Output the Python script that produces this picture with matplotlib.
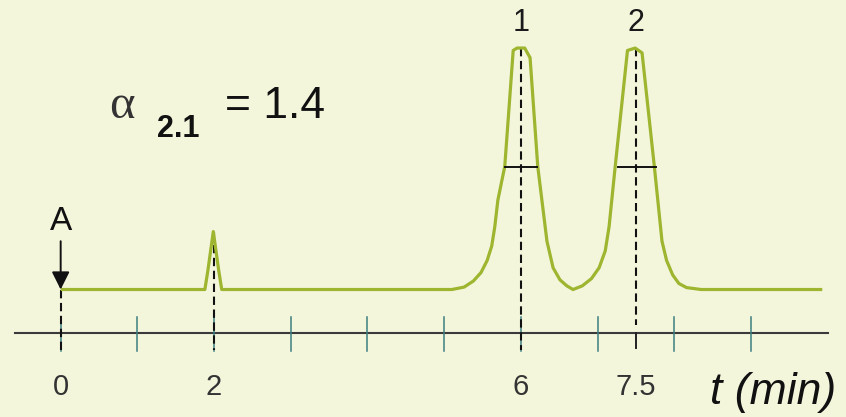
import matplotlib.pyplot as plt

# trace of the chromatogram: time (min) and detector signal (peak top = 1)
trace_t = [0.0, 1.88, 1.92, 1.99, 2.06, 2.10,
           5.10, 5.26, 5.38, 5.48, 5.56, 5.62, 5.66, 5.70, 5.79, 5.90, 5.95,
           6.05, 6.12, 6.22, 6.34, 6.42, 6.51, 6.60, 6.68,
           6.80, 6.92, 7.02, 7.10, 7.15, 7.23, 7.39, 7.49, 7.58, 7.74, 7.84,
           7.90, 7.98, 8.06, 8.16, 8.35, 9.93]
trace_s = [0.0, 0.0, 0.08, 0.24, 0.08, 0.0,
           0.0, 0.01, 0.035, 0.07, 0.12, 0.18, 0.26, 0.37, 0.51, 0.99, 1.0,
           1.0, 0.96, 0.51, 0.20, 0.09, 0.04, 0.015, 0.0,
           0.015, 0.045, 0.09, 0.16, 0.26, 0.51, 0.99, 1.0, 0.98, 0.51, 0.20,
           0.12, 0.06, 0.025, 0.008, 0.0, 0.0]

tick_pos = [0, 1, 2, 3, 4, 5, 6, 7, 8, 9]
label_pos = [0, 2, 6, 7.5]
label_txt = ['0', '2', '6', '7.5']

# retention times marked with dashed lines and their top
marks_t = [0, 2, 6, 7.5]
marks_top = [0.0, 0.24, 1.0, 1.0]

peak_t = [6, 7.5]
peak_names = ['1', '2']
# half-height width bars
half_h = 0.506
half_left = [5.79, 7.26]
half_right = [6.21, 7.76]

bg = '#f4f6dc'
green = '#9db52f'
teal = '#3d7d80'

fig = plt.figure(figsize=(8.46, 4.17), dpi=100, facecolor=bg)
ax = fig.add_axes([0, 0, 1, 1])
ax.set_facecolor(bg)
ax.set_xlim(-0.791, 10.239)
ax.set_ylim(-0.528, 1.199)
ax.axis('off')

axis_y = -0.180

# time axis
ax.plot([-0.60, 10.0], [axis_y, axis_y], color='#3a3a3a', lw=1.5, zorder=2)
for t in tick_pos:
    ax.plot([t, t], [-0.114, -0.255], color=teal, lw=1.1, zorder=3)
ax.plot([7.5, 7.5], [axis_y, -0.242], color='#222222', lw=1.4, zorder=3)

for t, lab in zip(label_pos, label_txt):
    ax.text(t, -0.404, lab, ha='center', va='center', fontsize=21,
            color='#333333', family='Liberation Sans')

ax.text(9.29, -0.425, 't (min)', ha='center', va='center', fontsize=32,
        style='italic', color='#111111', family='Liberation Sans')

# dashed retention markers
for t, top in zip(marks_t, marks_top):
    bottom = -0.147 if t == 7.5 else -0.25
    ax.plot([t, t], [top, bottom], color='#111111', lw=1.5,
            linestyle=(0, (4.0, 2.2)), zorder=4)

# chromatogram
ax.plot(trace_t, trace_s, color=green, lw=2.3, solid_joinstyle='round',
        solid_capstyle='butt', zorder=5)

for l, r in zip(half_left, half_right):
    ax.plot([l, r], [half_h, half_h], color='#111111', lw=1.4, zorder=6)

for t, name in zip(peak_t, peak_names):
    ax.text(t, 1.104, name, ha='center', va='center', fontsize=22,
            color='#1a1a1a', family='Liberation Sans')

# injection point
ax.annotate('', xy=(0, 0.0), xytext=(0, 0.20),
            arrowprops=dict(arrowstyle='-|>,head_length=0.4,head_width=0.2',
                            color='#111111', lw=1.4, mutation_scale=27,
                            shrinkA=0, shrinkB=0), zorder=6)
ax.text(0.004, 0.28, 'A', ha='center', va='center', fontsize=24,
        color='#111111', family='Liberation Sans')

# selectivity factor
ax.text(0.80, 0.76, 'α', ha='center', va='center', fontsize=35,
        color='#333333', family='Liberation Serif')
ax.text(1.53, 0.665, '2.1', ha='center', va='center', fontsize=22,
        fontweight='bold', color='#111111', family='Liberation Sans')
ax.text(2.79, 0.758, '= 1.4', ha='center', va='center', fontsize=32,
        color='#111111', family='Liberation Sans')

fig.savefig('out.png', dpi=100, facecolor=bg)
